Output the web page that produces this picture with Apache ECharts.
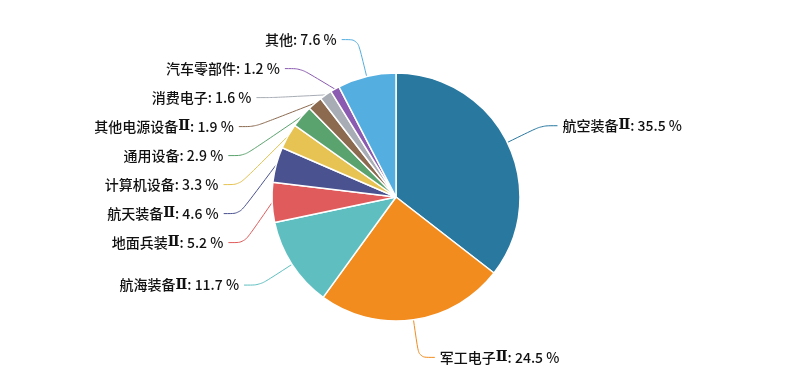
<!DOCTYPE html>
<html>
<head>
<meta charset="utf-8">
<script src="https://cdn.jsdelivr.net/npm/echarts@6/dist/echarts.min.js"></script>
<style>
  html, body { margin: 0; padding: 0; background: #fff; }
  #main { width: 786px; height: 378px; }
</style>
</head>
<body>
<div id="main"></div>
<script>
// 行业分布
const categories = ['航空装备Ⅱ', '军工电子Ⅱ', '航海装备Ⅱ', '地面兵装Ⅱ', '航天装备Ⅱ', '计算机设备', '通用设备', '其他电源设备Ⅱ', '消费电子', '汽车零部件', '其他']
const values = [35.5, 24.5, 11.7, 5.2, 4.6, 3.3, 2.9, 1.9, 1.6, 1.2, 7.6]
const colors = ['#2878a0', '#f28c1e', '#5fbfc0', '#e05c5c', '#4a5290', '#e6c352', '#5ba36e', '#8c6a50', '#a8adb5', '#8a5bb0', '#55aee0']

const chart = echarts.init(document.getElementById('main'))

// Ⅱ 单独用粗体衬线字
const fmtLabel = (p) => {
  const name = p.name.replace('Ⅱ', '}{r|Ⅱ}{t|')
  return '{t|' + name + ': ' + p.percent.toFixed(1) + ' %}'
}

const option = {
  backgroundColor: '#fff',
  color: colors,
  series: [
    {
      type: 'pie',
      center: [396, 197],
      radius: [0, 124],
      startAngle: 90,
      itemStyle: {
        borderColor: '#fff',
        borderWidth: 1.5
      },
      label: {
        formatter: fmtLabel,
        lineHeight: 27,
        rich: {
          t: {
            color: '#111',
            fontSize: 14,
            fontWeight: 500,
            lineHeight: 27,
            fontFamily: '"Noto Sans CJK SC", sans-serif'
          },
          r: {
            color: '#111',
            fontSize: 14,
            lineHeight: 27,
            fontWeight: 'bold',
            fontFamily: '"DejaVu Serif", serif'
          }
        }
      },
      labelLine: {
        length: 38,
        length2: 16,
        smooth: true,
        lineStyle: { width: 1 }
      },
      data: categories.map((name, i) => ({ name, value: values[i] }))
    }
  ]
}

chart.setOption(option)
</script>
</body>
</html>
